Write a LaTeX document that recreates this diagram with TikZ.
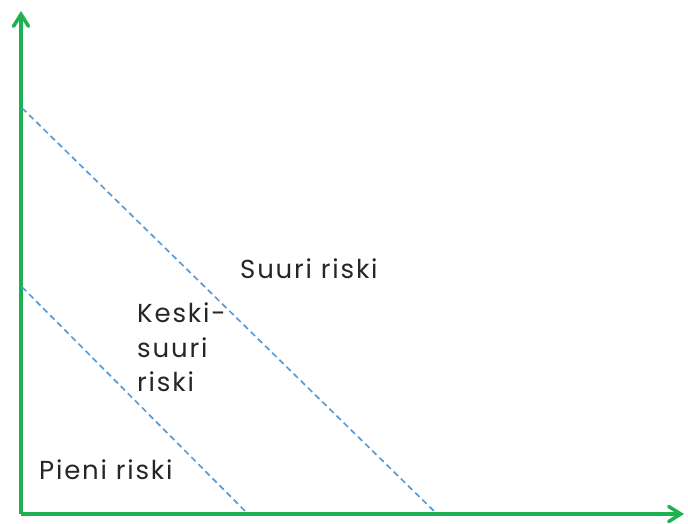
\documentclass[tikz,border=0pt]{standalone}
\usepackage{fontspec}
\setmainfont{Poppins}[LetterSpace=7]
\usetikzlibrary{arrows.meta}
\definecolor{achsgruen}{RGB}{29,177,80}
\definecolor{grenzblau}{RGB}{91,155,213}
\begin{document}
\begin{tikzpicture}[x=1pt,y=1pt,
		>={Straight Barb[length=12pt,width=15pt,line cap=round]},
		achse/.style={line width=3.5pt, achsgruen},
		grenze/.style={grenzblau, line width=1.7pt, dash pattern=on 6pt off 4pt},
		zone/.style={font=\fontsize{26}{34.5}\selectfont, text=black!85, inner sep=0pt, anchor=base west, align=left}]
		\useasboundingbox (0,0) rectangle (688,523);
		%achsen
		\coordinate (O) at (21,9);
		\coordinate (Y) at (21,512);
		\coordinate (X) at (684,9);
		\draw[achse, ->] (O) -- (Y);
		\draw[achse, ->] (O) -- (X);
		%grenzen
		\coordinate (gA) at (22,415);
		\coordinate (gB) at (437,9);
		\coordinate (kA) at (22,236);
		\coordinate (kB) at (248,9);
		\draw[grenze] (gA) -- (gB);
		\draw[grenze] (kA) -- (kB);
		%bereiche
		\node[zone] (suuri) at (240,245) {Suuri riski};
		\node[zone, anchor=north west] (keski) at (137,220) {Keski-\\suuri\\riski};
		\node[zone] (pieni) at (39,44) {Pieni riski};
	\end{tikzpicture}
\end{document}
